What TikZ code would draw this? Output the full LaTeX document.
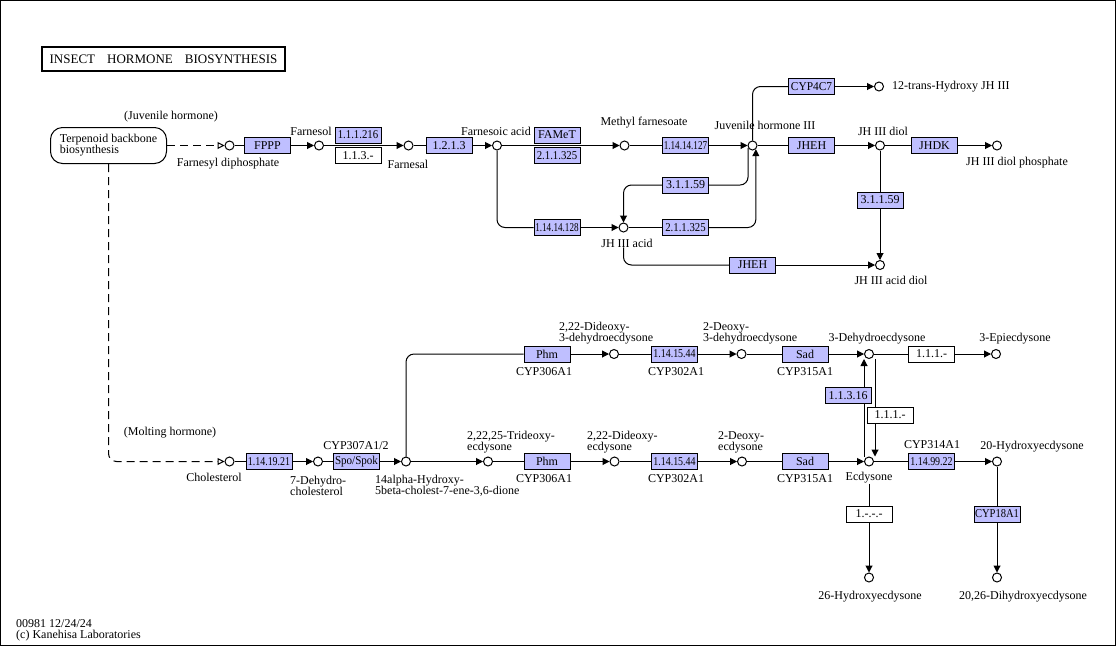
\documentclass[tikz,border=0pt]{standalone}
\usepackage{fontspec}
\setmainfont{Liberation Serif}
\usetikzlibrary{arrows.meta,backgrounds}
\definecolor{keggblue}{RGB}{191,191,255}
\newcommand\nar[2][0.85]{\scalebox{#1}[1]{#2}}

\tikzset{
	cpd/.style={circle, draw, line width=1pt, minimum size=9pt, inner sep=0pt, fill=white},
	enz/.style={draw, line width=1pt, fill=keggblue, minimum width=46pt, minimum height=16pt, inner sep=0pt, font=\fontsize{12}{12}\selectfont},
	enzw/.style={enz, fill=white},
	lbl/.style={inner sep=0pt, font=\fontsize{12}{11}\selectfont},
	lbll/.style={lbl, align=left, anchor=west},
	ln/.style={line width=1pt},
	arr/.style={ln, -{Triangle[length=7pt,width=7pt]}},
	dsh/.style={ln, dash pattern=on 8pt off 5pt, -{Triangle[open,length=7pt,width=7pt,fill=white]}},
}

\begin{document}
\begin{tikzpicture}[x=1pt, y=-1pt]
		%%%%% START %%%%%
		\useasboundingbox (0,0) rectangle (1116,646);
		\draw[line width=1pt] (0.5,0.5) rectangle (1115.5,645.5);
		
		\node[draw, line width=2pt, minimum width=243pt, minimum height=24pt, inner sep=0pt, font=\fontsize{13}{13}\selectfont] (title) at (163.5,59) {INSECT\hspace{12pt}HORMONE\hspace{12pt}BIOSYNTHESIS};
		\node[draw, line width=1pt, rounded corners=12pt, minimum width=116pt, minimum height=36pt, inner sep=0pt, align=left, font=\fontsize{12}{11}\selectfont] (tbb) at (108.5,145.5) {Terpenoid backbone\\biosynthesis};
		
		%%%%% JUVENILE HORMONE %%%%%
		\node[cpd] (cFPP) at (229.5,145.5) {};
		\node[cpd] (cFOH) at (319,145.5) {};
		\node[cpd] (cFAL) at (408.5,145.5) {};
		\node[cpd] (cFA) at (497,145.5) {};
		\node[cpd] (cMF) at (624.5,145.5) {};
		\node[cpd] (cJH) at (752.5,145.5) {};
		\node[cpd] (cHJH) at (879,86.5) {};
		\node[cpd] (cJHD) at (880,145.5) {};
		\node[cpd] (cJHDP) at (997,145.5) {};
		\node[cpd] (cJHA) at (623.5,227.5) {};
		\node[cpd] (cJHAD) at (880,265) {};
		
		\node[enz] (eFPPP) at (267.5,145.5) {FPPP};
		\node[enz] (e11216) at (358,135) {\nar[0.9]{1.1.1.216}};
		\node[enzw] (e113) at (358,155.5) {1.1.3.-};
		\node[enz] (e1213) at (449,145.5) {1.2.1.3};
		\node[enz] (eFAMeT) at (557,135) {FAMeT};
		\node[enz] (e211a) at (557,155.5) {\nar[0.9]{2.1.1.325}};
		\node[enz] (e127) at (685.5,145.5) {\nar[0.76]{1.14.14.127}};
		\node[enz] (eCYP4C7) at (811.5,86.5) {\nar[0.95]{CYP4C7}};
		\node[enz] (eJHEH) at (811.5,145.5) {JHEH};
		\node[enz] (eJHDK) at (934.5,145.5) {JHDK};
		\node[enz] (e3159b) at (880,200) {3.1.1.59};
		\node[enz] (e128) at (557,227.5) {\nar[0.76]{1.14.14.128}};
		\node[enz] (e3159a) at (685.5,185) {3.1.1.59};
		\node[enz] (e211b) at (685.5,227.5) {\nar[0.9]{2.1.1.325}};
		\node[enz] (eJHEH2) at (752.5,265) {JHEH};
		
		\node[lbl] (lJuv) at (171,117) {(Juvenile hormone)};
		\node[lbl] (lFPP) at (228,164) {Farnesyl diphosphate};
		\node[lbl] (lFOH) at (311,131) {Farnesol};
		\node[lbl] (lFAL) at (408,164) {Farnesal};
		\node[lbl] (lFA) at (496,131) {Farnesoic acid};
		\node[lbl] (lMF) at (644,123) {Methyl farnesoate};
		\node[lbl] (lJH) at (765,125) {Juvenile hormone III};
		\node[lbll] (lHJH) at (892,87) {12-trans-Hydroxy JH III};
		\node[lbl] (lJHD) at (883,131) {JH III diol};
		\node[lbl] (lJHDP) at (1017,163) {JH III diol phosphate};
		\node[lbl] (lJHA) at (627,243) {JH III acid};
		\node[lbl] (lJHAD) at (891,280) {JH III acid diol};
		
		\draw[dsh] (tbb) -- (cFPP);
		\draw[ln] (cFPP) -- (eFPPP);
		\draw[arr] (eFPPP) -- (cFOH);
		\draw[arr] (cFOH) -- (cFAL);
		\draw[ln] (cFAL) -- (e1213);
		\draw[arr] (e1213) -- (cFA);
		\draw[arr] (cFA) -- (cMF);
		\draw[ln] (cMF) -- (e127);
		\draw[arr] (e127) -- (cJH);
		\draw[ln, rounded corners=8pt] (cJH) |- (eCYP4C7);
		\draw[arr] (eCYP4C7) -- (cHJH);
		\draw[ln] (cJH) -- (eJHEH);
		\draw[arr] (eJHEH) -- (cJHD);
		\draw[ln] (cJHD) -- (eJHDK);
		\draw[arr] (eJHDK) -- (cJHDP);
		\draw[ln] (cJHD) -- (e3159b);
		\draw[arr] (e3159b) -- (cJHAD);
		\draw[ln, rounded corners=8pt] (cFA) |- (e128);
		\draw[arr] (e128) -- (cJHA);
		\draw[ln, rounded corners=8pt] (cJH.207) |- (e3159a);
		\draw[arr, rounded corners=8pt] (e3159a) -| (cJHA);
		\draw[ln] (cJHA) -- (e211b);
		\draw[arr, rounded corners=8pt] (e211b) -| (cJH.312);
		\draw[ln, rounded corners=8pt] (cJHA |- lJHA.south) |- (eJHEH2);
		\draw[arr] (eJHEH2) -- (cJHAD);
		
		%%%%% MOLTING HORMONE %%%%%
		\node[cpd] (cChol) at (229.5,461.5) {};
		\node[cpd] (cDHC) at (318,461.5) {};
		\node[cpd] (c14a) at (406,461.5) {};
		\node[cpd] (cTDE) at (488,461.5) {};
		\node[cpd] (cDDE) at (614.5,461.5) {};
		\node[cpd] (cDE) at (742,461.5) {};
		\node[cpd] (cEcd) at (869,461.5) {};
		\node[cpd] (c20HE) at (997,461.5) {};
		\node[cpd] (cDDD) at (614,354) {};
		\node[cpd] (cDD) at (741.5,354) {};
		\node[cpd] (cDHE) at (869,354) {};
		\node[cpd] (cEpi) at (996,354) {};
		\node[cpd] (cHE) at (869,577.5) {};
		\node[cpd] (cDHE2) at (997,577.5) {};
		
		\node[enz] (e11921) at (269,461.5) {\nar[0.83]{1.14.19.21}};
		\node[enz] (eSpo) at (356.5,461.5) {\nar[0.92]{Spo/Spok}};
		\node[enz] (ePhm2) at (547,461.5) {Phm};
		\node[enz] (e1144b) at (674.5,461.5) {\nar[0.83]{1.14.15.44}};
		\node[enz] (eSad2) at (805,461.5) {Sad};
		\node[enz] (e99) at (931.5,461.5) {\nar[0.83]{1.14.99.22}};
		\node[enz] (ePhm1) at (547,354) {Phm};
		\node[enz] (e1144a) at (674.5,354) {\nar[0.83]{1.14.15.44}};
		\node[enz] (eSad1) at (805,354) {Sad};
		\node[enzw] (e111a) at (931.5,354) {1.1.1.-};
		\node[enz] (e1316) at (848,395.5) {1.1.3.16};
		\node[enzw] (e111b) at (890,415) {1.1.1.-};
		\node[enzw] (e1xxx) at (869,514) {1.-.-.-};
		\node[enz] (eCYP18) at (997,514) {\nar[0.88]{CYP18A1}};
		
		\node[lbl] (lMolt) at (170,433) {(Molting hormone)};
		\node[lbl] (lChol) at (214,477) {Cholesterol};
		\node[lbll] (lDHC) at (290,485.5) {7-Dehydro-\\cholesterol};
		\node[lbl] (lCYP307) at (356,446) {CYP307A1/2};
		\node[lbll] (l14a) at (375,485.5) {14alpha-Hydroxy-\\5beta-cholest-7-ene-3,6-dione};
		\node[lbll] (lTDE) at (467,442) {2,22,25-Trideoxy-\\ecdysone};
		\node[lbll] (lDDE) at (587,442) {2,22-Dideoxy-\\ecdysone};
		\node[lbll] (lDE) at (718,442) {2-Deoxy-\\ecdysone};
		\node[lbll] (lDDD) at (559,333) {2,22-Dideoxy-\\3-dehydroecdysone};
		\node[lbll] (lDD) at (703,333) {2-Deoxy-\\3-dehydroecdysone};
		\node[lbl] (lDHE) at (877,339) {3-Dehydroecdysone};
		\node[lbl] (lEpi) at (1015,339) {3-Epiecdysone};
		\node[lbl] (lCYP306a) at (544,372) {CYP306A1};
		\node[lbl] (lCYP302a) at (676,372) {CYP302A1};
		\node[lbl] (lCYP315a) at (805,372) {CYP315A1};
		\node[lbl] (lCYP306b) at (544,479) {CYP306A1};
		\node[lbl] (lCYP302b) at (676,479) {CYP302A1};
		\node[lbl] (lCYP315b) at (805,479) {CYP315A1};
		\node[lbl] (lEcd) at (869,478) {Ecdysone};
		\node[lbl] (lCYP314) at (932,445) {CYP314A1};
		\node[lbl] (l20HE) at (1032,447) {20-Hydroxyecdysone};
		\node[lbl] (lHE) at (870,597) {26-Hydroxyecdysone};
		\node[lbl] (l2026) at (1023,597) {20,26-Dihydroxyecdysone};
		
		\draw[dsh, rounded corners=8pt] (tbb) |- (cChol);
		\draw[ln] (cChol) -- (e11921);
		\draw[arr] (e11921) -- (cDHC);
		\draw[ln] (cDHC) -- (eSpo);
		\draw[arr] (eSpo) -- (c14a);
		\draw[arr] (c14a) -- (cTDE);
		\draw[ln] (cTDE) -- (ePhm2);
		\draw[arr] (ePhm2) -- (cDDE);
		\draw[ln] (cDDE) -- (e1144b);
		\draw[arr] (e1144b) -- (cDE);
		\draw[ln] (cDE) -- (eSad2);
		\draw[arr] (eSad2) -- (cEcd);
		\draw[ln] (cEcd) -- (e99);
		\draw[arr] (e99) -- (c20HE);
		\draw[ln, rounded corners=8pt] (c14a) |- (ePhm1);
		\draw[arr] (ePhm1) -- (cDDD);
		\draw[ln] (cDDD) -- (e1144a);
		\draw[arr] (e1144a) -- (cDD);
		\draw[ln] (cDD) -- (eSad1);
		\draw[arr] (eSad1) -- (cDHE);
		\draw[ln] (cDHE) -- (e111a);
		\draw[arr] (e111a) -- (cEpi);
		\begin{pgfonlayer}{background}
			\draw[arr] ([xshift=-5pt]cEcd.north) -- ([xshift=-5pt]cDHE.south);
			\draw[arr] ([xshift=6pt]cDHE.south) -- ([xshift=6pt]cEcd.north);
		\end{pgfonlayer}
		\draw[ln] (lEcd.south) -- (e1xxx);
		\draw[arr] (e1xxx) -- (cHE);
		\draw[ln] (c20HE) -- (eCYP18);
		\draw[arr] (eCYP18) -- (cDHE2);
		
		\node[lbll] (lId) at (16,624) {00981 12/24/24};
		\node[lbll] (lCopy) at (16,636) {(c) Kanehisa Laboratories};
		%%%%% END %%%%%
	\end{tikzpicture}
\end{document}
